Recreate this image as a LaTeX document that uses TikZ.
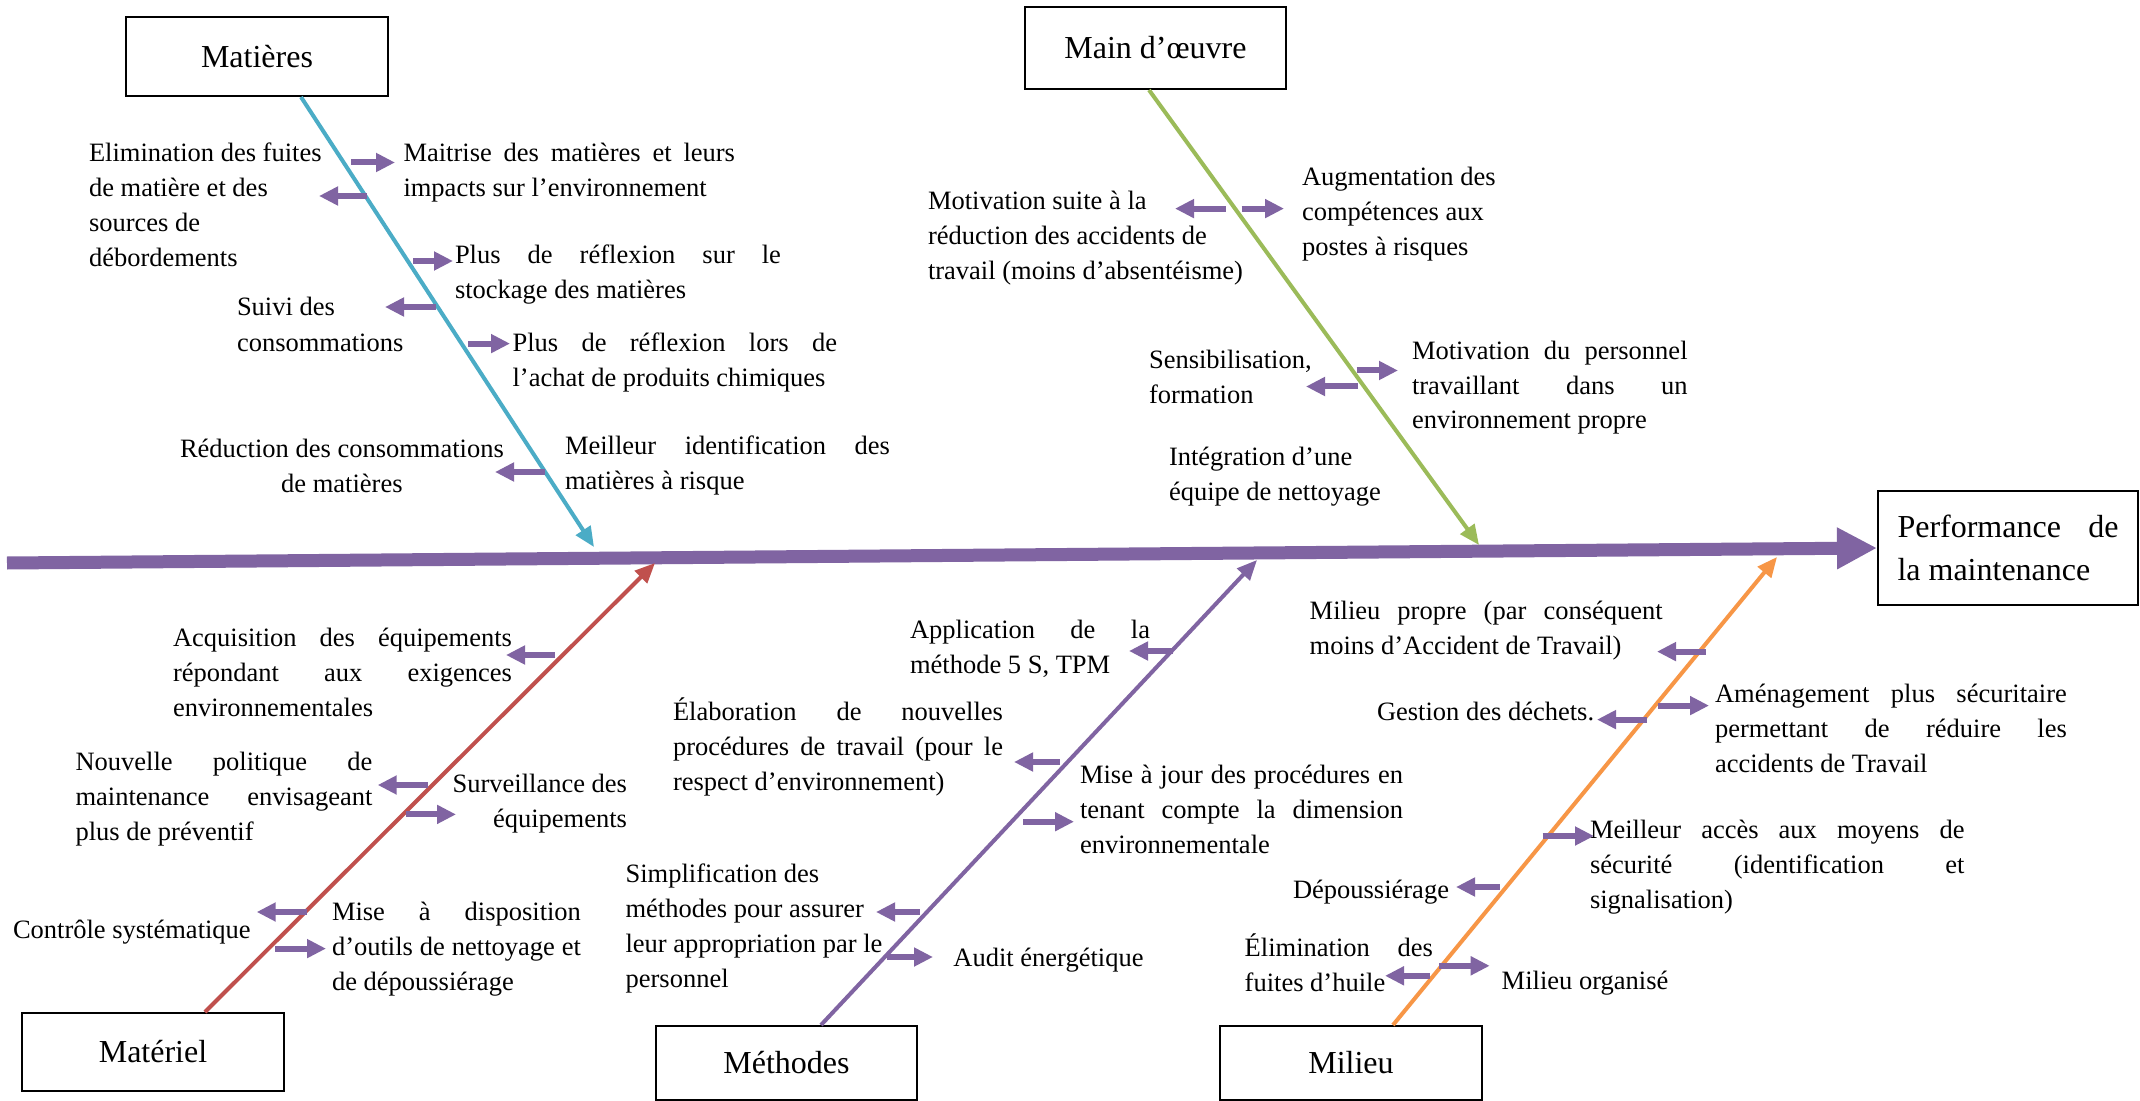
\documentclass[tikz,border=0pt]{standalone}
\usepackage{fontspec}
\setmainfont{Liberation Serif}
\usetikzlibrary{arrows.meta}
\definecolor{spinec}{HTML}{8064A2}
\definecolor{bluec}{HTML}{4BACC6}
\definecolor{greenc}{HTML}{9BBB59}
\definecolor{redc}{HTML}{C0504D}
\definecolor{orangec}{HTML}{F79646}
\newlength\pxu \setlength\pxu{0.5pt}
\newcommand\jw[2]{\makebox[#1\pxu][s]{#2}}
\newcommand\bL[1]{\vtop{\baselineskip=17.5pt\lineskiplimit=-50pt\halign{##\hfil\cr#1\crcr}}}
\newcommand\bC[1]{\vtop{\baselineskip=17.5pt\lineskiplimit=-50pt\halign{\hfil##\hfil\cr#1\crcr}}}
\newcommand\bR[1]{\vtop{\baselineskip=17.5pt\lineskiplimit=-50pt\halign{\hfil##\cr#1\crcr}}}
\tikzset{
  txt/.style={inner sep=0pt, outer sep=0pt, font=\fontsize{13.25}{17.5}\selectfont, anchor=base west},
  catbox/.style={draw=black, line width=1pt, inner sep=0pt, fill=white, font=\fontsize{16}{21.5}\selectfont},
  sarr/.style={draw=spinec, line width=3pt, -{Triangle[length=9.5pt,width=9pt]}},
  bone/.style={line width=2pt, -{Triangle[length=10pt,width=8.5pt]}},
  spine/.style={draw=spinec, line width=6.5pt, -{Triangle[length=20pt,width=19.5pt]}}
}
\begin{document}
\begin{tikzpicture}[x=0.5pt,y=-0.5pt]
\fill[white] (0,0) rectangle (2140,1101);
\useasboundingbox (0,0) rectangle (2140,1101);

% category boxes
\node[catbox, minimum width=131pt, minimum height=39.5pt] (mat) at (257,56.5) {Matières};
\node[catbox, minimum width=130.5pt, minimum height=41pt] (mo) at (1155.5,48) {Main d’œuvre};
\node[catbox, minimum width=131pt, minimum height=39pt] (mtl) at (153,1052) {Matériel};
\node[catbox, minimum width=130.5pt, minimum height=37pt] (meth) at (786.5,1063) {Méthodes};
\node[catbox, minimum width=131pt, minimum height=37pt] (mil) at (1351,1063) {Milieu};
\node[catbox, minimum width=130pt, minimum height=57pt, align=left] (perf) at (2008,548) {\jw{221}{Performance de}\\la maintenance};

% spine
\coordinate (sp0) at (7,563);
\draw[spine] (sp0) -- (perf.west);

% bones
\coordinate (s1) at (301,0);   \coordinate (t1) at (594,547);
\coordinate (s2) at (1149,0);  \coordinate (t2) at (1479,545);
\coordinate (s3) at (205,0);   \coordinate (t3) at (655,563);
\coordinate (s4) at (821,0);   \coordinate (t4) at (1257,560);
\coordinate (s5) at (1393,0);  \coordinate (t5) at (1777,557);
\draw[bone, bluec] (mat.south -| s1) -- (t1);
\draw[bone, greenc] (mo.south -| s2) -- (t2);
\draw[bone, redc] (mtl.north -| s3) -- (t3);
\draw[bone, spinec] (meth.north -| s4) -- (t4);
\draw[bone, orangec] (mil.north -| s5) -- (t5);

% small arrows
\draw[sarr] (351,162.5) -- (395,162.5);
\draw[sarr] (367,196) -- (319,196);
\draw[sarr] (413,261) -- (453,261);
\draw[sarr] (436,307) -- (385,307);
\draw[sarr] (468,343.6) -- (510,343.6);
\draw[sarr] (545,472) -- (495,472);

\draw[sarr] (1225.5,208.6) -- (1175,208.6);
\draw[sarr] (1241.6,208.6) -- (1284,208.6);
\draw[sarr] (1356.5,370.5) -- (1398,370.5);
\draw[sarr] (1358,386.5) -- (1306,386.5);

\draw[sarr] (555,655) -- (506,655);
\draw[sarr] (427.6,785) -- (377.7,785);
\draw[sarr] (405.6,814.4) -- (456,814.4);
\draw[sarr] (306.6,912) -- (256.7,912);
\draw[sarr] (275,948.6) -- (326,948.6);

\draw[sarr] (1173,651) -- (1129,651);
\draw[sarr] (1060,762) -- (1014,762);
\draw[sarr] (1023,821.7) -- (1074,821.7);
\draw[sarr] (920,912) -- (876,912);
\draw[sarr] (887,957) -- (933,957);

\draw[sarr] (1705.6,651.6) -- (1657,651.6);
\draw[sarr] (1647,719.6) -- (1597,719.6);
\draw[sarr] (1658,705.6) -- (1709,705.6);
\draw[sarr] (1542.7,836) -- (1594,836);
\draw[sarr] (1500,887) -- (1456,887);
\draw[sarr] (1429.7,975.8) -- (1385,975.8);
\draw[sarr] (1439,965.8) -- (1489.7,965.8);

% texts - Matières
\node[txt] (b1) at (89,162) {\bL{Elimination des fuites\cr de matière et des\cr sources de\cr débordements}};
\node[txt] (b2) at (403.5,162) {\bL{\jw{331.5}{Maitrise des matières et leurs}\cr impacts sur l’environnement}};
\node[txt] (b3) at (455,264) {\bL{\jw{326}{Plus de réflexion sur le}\cr stockage des matières}};
\node[txt] (b4) at (237,316) {\bL{Suivi des\cr consommations}};
\node[txt] (b5) at (512.6,351.6) {\bL{\jw{324.4}{Plus de réflexion lors de}\cr l’achat de produits chimiques}};
\node[txt] (b6) at (180,457) {\bC{Réduction des consommations\cr de matières}};
\node[txt] (b7) at (565,454) {\bL{\jw{325}{Meilleur identification des}\cr matières à risque}};
% Main d'oeuvre
\node[txt] (b8) at (928,210) {\bL{Motivation suite à la\cr réduction des accidents de\cr travail (moins d’absentéisme)}};
\node[txt] (b9) at (1302,186) {\bL{Augmentation des\cr compétences aux\cr postes à risques}};
\node[txt] (b10) at (1149,368.5) {\bL{Sensibilisation,\cr formation}};
\node[txt] (b11) at (1412,359) {\bL{\jw{275.6}{Motivation du personnel}\cr \jw{275.6}{travaillant dans un}\cr environnement propre}};
\node[txt] (b12) at (1169,465) {\bL{Intégration d’une\cr équipe de nettoyage}};
% Matériel
\node[txt] (b13) at (173,646) {\bL{\jw{339}{Acquisition des équipements}\cr \jw{339}{répondant aux exigences}\cr environnementales}};
\node[txt] (b14) at (75.5,770.5) {\bL{\jw{297}{Nouvelle politique de}\cr \jw{297}{maintenance envisageant}\cr plus de préventif}};
\node[txt, anchor=base east] (b15) at (627,792) {\bR{Surveillance des\cr équipements}};
\node[txt] (b16) at (13,938) {Contrôle systématique};
\node[txt] (b17) at (332,920) {\bL{\jw{249}{Mise à disposition}\cr \jw{249}{d’outils de nettoyage et}\cr de dépoussiérage}};
% Méthodes
\node[txt] (b18) at (910,638) {\bL{\jw{240}{Application de la}\cr méthode 5 S, TPM}};
\node[txt] (b19) at (673,720) {\bL{\jw{330}{Élaboration de nouvelles}\cr \jw{330}{procédures de travail (pour le}\cr respect d’environnement)}};
\node[txt] (b20) at (1080,783) {\bL{\jw{323}{Mise à jour des procédures en}\cr \jw{323}{tenant compte la dimension}\cr environnementale}};
\node[txt] (b21) at (625.6,882.5) {\bL{Simplification des\cr méthodes pour assurer\cr leur appropriation par le\cr personnel}};
\node[txt] (b22) at (953.4,966.6) {Audit énergétique};
% Milieu
\node[txt] (b23) at (1309.7,619.6) {\bL{\jw{353}{Milieu propre (par conséquent}\cr moins d’Accident de Travail)}};
\node[txt] (b24) at (1377,720.5) {Gestion des déchets.};
\node[txt] (b25) at (1715,702.6) {\bL{\jw{351.8}{Aménagement plus sécuritaire}\cr \jw{351.8}{permettant de réduire les}\cr accidents de Travail}};
\node[txt] (b26) at (1590,838) {\bL{\jw{374.5}{Meilleur accès aux moyens de}\cr \jw{374.5}{sécurité (identification et}\cr signalisation)}};
\node[txt] (b27) at (1293,898) {Dépoussiérage};
\node[txt] (b28) at (1244.7,956) {\bL{\jw{188.3}{Élimination des}\cr fuites d’huile}};
\node[txt] (b29) at (1501.7,989) {Milieu organisé};
\end{tikzpicture}
\end{document}
